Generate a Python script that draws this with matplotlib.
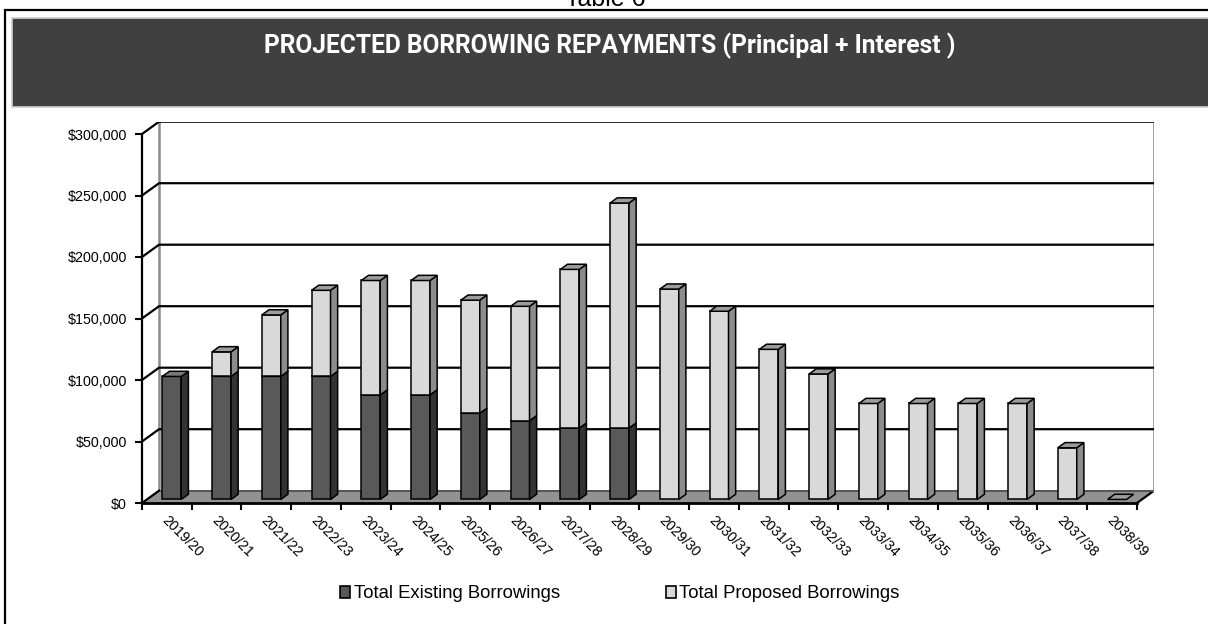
import matplotlib
matplotlib.use("Agg")
import matplotlib.pyplot as plt
from matplotlib.patches import Polygon, Rectangle
from matplotlib.lines import Line2D
from matplotlib import font_manager
import numpy as np

# ---------------- data ----------------
categories = ["2019/20", "2020/21", "2021/22", "2022/23", "2023/24", "2024/25",
              "2025/26", "2026/27", "2027/28", "2028/29", "2029/30", "2030/31",
              "2031/32", "2032/33", "2033/34", "2034/35", "2035/36", "2036/37",
              "2037/38", "2038/39"]
existing = [100000, 100000, 100000, 100000, 85000, 85000, 70000, 64000, 58000, 58000,
            0, 0, 0, 0, 0, 0, 0, 0, 0, 0]
proposed = [0, 20000, 50000, 70000, 93000, 93000, 92000, 93000, 129000, 183000,
            171000, 153000, 122000, 102000, 78000, 78000, 78000, 78000, 42000, 0]
yticks = [0, 50000, 100000, 150000, 200000, 250000, 300000]
ytick_labels = ["$0", "$50,000", "$100,000", "$150,000", "$200,000", "$250,000", "$300,000"]
series_names = ["Total Existing Borrowings", "Total Proposed Borrowings"]
title = "PROJECTED BORROWING REPAYMENTS (Principal + Interest )"

# ---------------- style ----------------
W, H = 1208, 624
fig = plt.figure(figsize=(W / 100, H / 100), dpi=100)
fig.patch.set_facecolor("white")

avail = {f.name for f in font_manager.fontManager.ttflist}
narrow = "Liberation Sans Narrow" if "Liberation Sans Narrow" in avail else "Liberation Sans"
title_font = "Roboto" if "Roboto" in avail else "Liberation Sans"
plt.rcParams["font.family"] = ["Liberation Sans", "DejaVu Sans"]

front_cols = ["#595959", "#d9d9d9"]
side_cols = ["#333333", "#8c8c8c"]
top_cols = ["#7a7a7a", "#9c9c9c"]

# depth (oblique projection) in data units
DX, DY = 0.342, 10000
ymax = 300000
n = len(categories)

def px2fig(x0, y0, x1, y1):
    return [x0 / W, 1 - y1 / H, (x1 - x0) / W, (y1 - y0) / H]

# outer border and title band
fig.add_artist(Rectangle((5 / W, -0.05), 1.1, 1 - 10 / H + 0.05, transform=fig.transFigure,
                         facecolor="none", edgecolor="black", lw=1.6, zorder=0))
fig.add_artist(Rectangle((12 / W, 1 - 107 / H), 1.1, (107 - 18) / H, transform=fig.transFigure,
                         facecolor="#404040", edgecolor="#d0d0d0", lw=1.2, zorder=1))
fig.text(605 / W, 1 - 6 / H, "Table 6", ha="center", va="baseline", fontsize=18,
         color="black")
t = fig.text(610 / W, 1 - 46 / H, title, ha="center", va="center", color="white",
             fontsize=16, fontweight="bold", family=[title_font, "DejaVu Sans"])
fig.canvas.draw()
bb = t.get_window_extent()
t.set_fontsize(16 * 696 / bb.width)

ax = fig.add_axes(px2fig(142, 121.7, 1154, 503))
ax.set_xlim(-0.5, n - 0.5 + DX)
ax.set_ylim(0, ymax + DY)
ax.set_facecolor("none")
for s in ["top", "right"]:
    ax.spines[s].set_visible(False)
ax.spines["left"].set_bounds(0, ymax)
ax.spines["left"].set_linewidth(1.6)
ax.spines["bottom"].set_bounds(-0.5, n - 0.5)
ax.spines["bottom"].set_linewidth(2.0)
ax.spines["left"].set_zorder(6)
ax.spines["bottom"].set_zorder(6)

ax.set_yticks(yticks)
ax.set_yticklabels(ytick_labels, fontsize=10.3, family=[narrow, "DejaVu Sans"])
ax.tick_params(axis="y", direction="out", length=5, width=1.5, pad=6)
ax.set_xticks(np.arange(-0.5, n, 1.0))
ax.set_xticklabels([])
ax.tick_params(axis="x", direction="out", length=5, width=1.5)

def P(x, y, z):
    return (x + z * DX, y + z * DY)

# floor
floor = Polygon([P(-0.5, 0, 0), P(n - 0.5, 0, 0), P(n - 0.5, 0, 1), P(-0.5, 0, 1)],
                closed=True, facecolor="#929292", edgecolor="none", zorder=1)
ax.add_patch(floor)
ax.add_line(Line2D(*zip(P(n - 0.5, 0, 0), P(n - 0.5, 0, 1)), color="black", lw=1.6, zorder=2))
ax.add_line(Line2D(*zip(P(-0.5, 0, 1), P(n - 0.5, 0, 1)), color="#555555", lw=1.4, zorder=2))
# back wall vertical edges
for xe in (-0.5, n - 0.5):
    ax.add_line(Line2D(*zip(P(xe, 0, 1), P(xe, ymax, 1)), color="#8a8a8a", lw=1.8, zorder=2))
# gridlines on side wall + back wall
for v in yticks:
    pts = [P(-0.5, v, 0), P(-0.5, v, 1), P(n - 0.5, v, 1)]
    if v == 0:
        pts = pts[:2]
    ax.add_line(Line2D(*zip(*pts), color="black", lw=1.6, zorder=2))

# bars
bw = 0.38
z0, z1 = 0.29, 0.71
def bar3d(xc, y0, y1, k, zo, draw_top=True):
    a, b = xc - bw / 2, xc + bw / 2
    ec = dict(edgecolor="black", lw=1.1, joinstyle="miter")
    if y1 > y0:
        ax.add_patch(Polygon([P(a, y0, z0), P(b, y0, z0), P(b, y1, z0), P(a, y1, z0)],
                             facecolor=front_cols[k], zorder=zo, **ec))
        ax.add_patch(Polygon([P(b, y0, z0), P(b, y0, z1), P(b, y1, z1), P(b, y1, z0)],
                             facecolor=side_cols[k], zorder=zo, **ec))
    if draw_top:
        ax.add_patch(Polygon([P(a, y1, z0), P(b, y1, z0), P(b, y1, z1), P(a, y1, z1)],
                             facecolor=top_cols[k], zorder=zo, **ec))

for i in range(n):
    e, p = existing[i], proposed[i]
    zo = 3 + (n - i) * 0.01
    if e > 0:
        bar3d(i, 0, e, 0, zo)
    if p > 0 or e == 0:
        bar3d(i, e, e + p, 1, zo + 0.001)

# category labels
for i, lab in enumerate(categories):
    ax.annotate(lab, xy=(i, 0), xytext=(2, -10), textcoords="offset pixels",
                rotation=-45, rotation_mode="anchor", ha="left", va="top",
                fontsize=10.3, family=[narrow, "DejaVu Sans"], annotation_clip=False)

# legend
handles = [Rectangle((0, 0), 1, 1, facecolor=front_cols[k], edgecolor="black", lw=1.2)
           for k in range(2)]
fig.legend(handles, series_names, loc="center", bbox_to_anchor=(620 / W, 1 - 594 / H),
           ncol=2, frameon=False, handlelength=0.55, handleheight=0.55,
           handletextpad=0.2, columnspacing=5.7,
           prop={"family": [narrow, "DejaVu Sans"], "size": 13.3})

fig.savefig("out.png", dpi=100)
